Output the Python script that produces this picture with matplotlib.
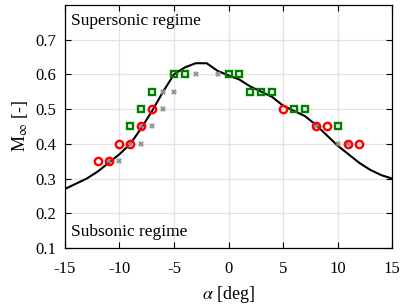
import matplotlib
matplotlib.use("Agg")
import matplotlib.pyplot as plt

plt.rcParams['font.family'] = ['Liberation Serif', 'DejaVu Serif']
plt.rcParams['mathtext.fontset'] = 'stix'

# Curve
curve_alpha = [-15, -14, -13, -12, -11, -10, -9, -8, -7, -6, -5, -4, -3, -2, -1, 0,
               1, 2, 3, 4, 5, 6, 7, 8, 9, 10, 11, 12, 13, 14, 15]
curve_mach = [0.27, 0.285, 0.30, 0.32, 0.345, 0.37, 0.40, 0.445, 0.495, 0.55, 0.60,
              0.62, 0.632, 0.632, 0.61, 0.597, 0.585, 0.565, 0.55, 0.535, 0.51,
              0.495, 0.48, 0.455, 0.425, 0.395, 0.37, 0.345, 0.325, 0.31, 0.30]

# Gray crosses
gray_alpha = [-11, -10, -9, -8, -8, -7, -6, -6, -5, -3, -1, 8, 10, 11]
gray_mach = [0.35, 0.35, 0.40, 0.40, 0.45, 0.45, 0.50, 0.55, 0.55, 0.60, 0.60, 0.45, 0.40, 0.40]

# Green squares
green_alpha = [-9, -8, -7, -5, -4, 0, 1, 2, 3, 4, 6, 7, 10]
green_mach = [0.45, 0.50, 0.55, 0.60, 0.60, 0.60, 0.60, 0.55, 0.55, 0.55, 0.50, 0.50, 0.45]

# Red circles
red_alpha = [-12, -11, -10, -9, -8, -7, 5, 8, 9, 11, 12]
red_mach = [0.35, 0.35, 0.40, 0.40, 0.45, 0.50, 0.50, 0.45, 0.45, 0.40, 0.40]

xticks = [-15, -10, -5, 0, 5, 10, 15]
yticks = [0.1, 0.2, 0.3, 0.4, 0.5, 0.6, 0.7]

fig = plt.figure(figsize=(4.03, 3.04), dpi=100)
ax = fig.add_axes([0.161, 0.184, 0.812, 0.800])

ax.plot(curve_alpha, curve_mach, color='black', lw=1.5, zorder=3)
ax.plot(gray_alpha, gray_mach, linestyle='none', marker='X', color='#8c8c8c',
        markersize=4, markeredgewidth=0, zorder=4)
ax.plot(green_alpha, green_mach, linestyle='none', marker='s', markerfacecolor='none',
        markeredgecolor='#008000', markersize=4.3, markeredgewidth=1.7, zorder=5)
ax.plot(red_alpha, red_mach, linestyle='none', marker='o', markerfacecolor='none',
        markeredgecolor='#ff0000', markersize=5.3, markeredgewidth=1.7, zorder=6)

ax.set_xlim(-15, 15)
ax.set_ylim(0.1, 0.8)
ax.set_xticks(xticks)
ax.set_yticks(yticks)
ax.set_xticklabels([str(t) for t in xticks])
ax.set_yticklabels([f"{t:.1f}" for t in yticks])
ax.grid(True, color='#e3e3e3', lw=0.9)
ax.set_axisbelow(True)
ax.tick_params(direction='in', top=True, right=True, labelsize=12, length=4,
               width=0.8)
ax.tick_params(axis='x', pad=9)
ax.tick_params(axis='y', pad=6)
for s in ax.spines.values():
    s.set_linewidth(0.9)

ax.set_xlabel(r'$\alpha$ [deg]', fontsize=13, labelpad=5)
ax.set_ylabel(r'M$_\infty$ [-]', fontsize=13, labelpad=4)

ax.text(0.02, 0.965, 'Supersonic regime', transform=ax.transAxes, fontsize=12.5,
        ha='left', va='top')
ax.text(0.02, 0.035, 'Subsonic regime', transform=ax.transAxes, fontsize=12.5,
        ha='left', va='bottom')

fig.savefig('out.png', dpi=100)
